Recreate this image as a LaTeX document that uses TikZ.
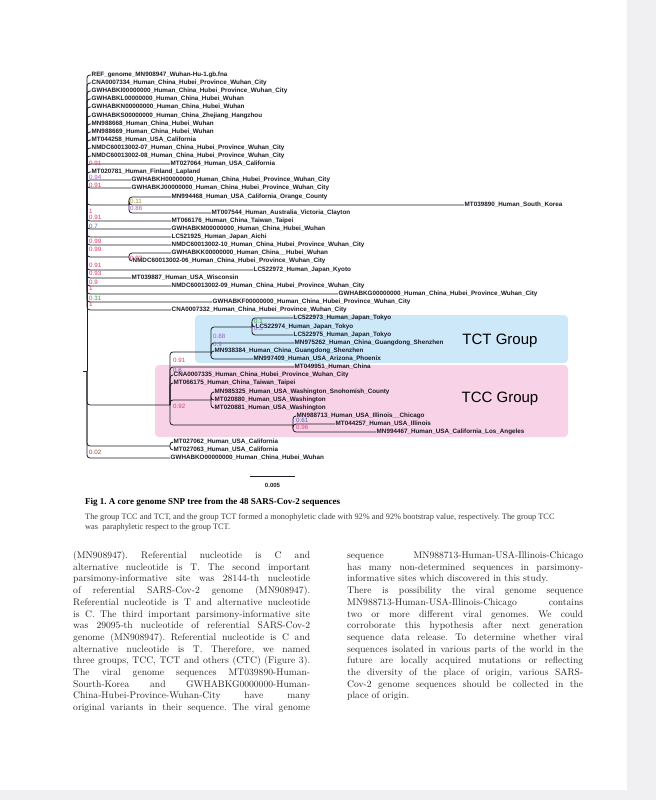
\documentclass[tikz,border=0pt]{standalone}
\usepackage{fontspec}
\frenchspacing
\newfontfamily\treefont{Liberation Sans}
\newfontfamily\capfont{Liberation Serif}
\definecolor{pagegrey}{HTML}{F0F0F2}
\definecolor{treeline}{HTML}{1C1C28}
\definecolor{tctblue}{HTML}{CDE8F8}
\definecolor{tccpink}{HTML}{F8D2E6}
\definecolor{bsred}{HTML}{D8345F}
\definecolor{bspurple}{HTML}{9A5CC8}
\definecolor{bsblue}{HTML}{4A5FC1}
\definecolor{bsgreen}{HTML}{3C9A3C}
\definecolor{bsolive}{HTML}{A8962A}
\definecolor{bsbrown}{HTML}{8C4A2F}
\definecolor{bspink}{HTML}{D6407F}
\definecolor{bodytext}{HTML}{222222}
\definecolor{captext}{HTML}{3C3C3C}
\tikzset{
  branch/.style={draw=treeline, line width=0.8pt, rounded corners=3pt},
  leaf/.style={anchor=west, inner sep=0.5pt, text=treeline, font=\treefont\bfseries\fontsize{6.3}{7}\selectfont},
  boot/.style={anchor=west, inner sep=0pt, font=\treefont\fontsize{6.2}{7}\selectfont},
  grouplabel/.style={font=\treefont\fontsize{15}{18}\selectfont},
  bodyline/.style={anchor=base west, inner sep=0pt, text=bodytext, font=\fontsize{9.6}{11.7}\selectfont},
}
\begin{document}
\begin{tikzpicture}[x=1pt,y=-1pt]
\useasboundingbox (0,0) rectangle (656,800);
% page
\fill[pagegrey] (0,0) rectangle (656,800);
\fill[white] (0,0) rectangle (627,790);
% group boxes
\fill[tctblue, rounded corners=4pt] (195,315) rectangle (568,363);
\fill[tccpink, rounded corners=4pt] (155,365) rectangle (568,437);
\node[grouplabel] (tct) at (500,341) {TCT Group};
\node[grouplabel] (tcc) at (500,399) {TCC Group};
% leaves
\foreach \x/\y/\t [count=\n] in {
 91/75/{REF\_genome\_MN908947\_Wuhan-Hu-1.gb.fna},
 91/83/{CNA0007334\_Human\_China\_Hubei\_Province\_Wuhan\_City},
 91/91/{GWHABKI00000000\_Human\_China\_Hubei\_Province\_Wuhan\_City},
 91/99/{GWHABKL00000000\_Human\_China\_Hubei\_Wuhan},
 91/107/{GWHABKN00000000\_Human\_China\_Hubei\_Wuhan},
 91/116/{GWHABKS00000000\_Human\_China\_Zhejiang\_Hangzhou},
 91/124/{MN988668\_Human\_China\_Hubei\_Wuhan},
 91/132/{MN988669\_Human\_China\_Hubei\_Wuhan},
 91/140/{MT044258\_Human\_USA\_California},
 91/148/{NMDC60013002-07\_Human\_China\_Hubei\_Province\_Wuhan\_City},
 91/156/{NMDC60013002-08\_Human\_China\_Hubei\_Province\_Wuhan\_City},
 170/164/{MT027064\_Human\_USA\_California},
 91/172/{MT020781\_Human\_Finland\_Lapland},
 131/180/{GWHABKH00000000\_Human\_China\_Hubei\_Province\_Wuhan\_City},
 131/188/{GWHABKJ00000000\_Human\_China\_Hubei\_Province\_Wuhan\_City},
 171/197/{MN994468\_Human\_USA\_California\_Orange\_County},
 464/205/{MT039890\_Human\_South\_Korea},
 211/213/{MT007544\_Human\_Australia\_Victoria\_Clayton},
 171/221/{MT066176\_Human\_China\_Taiwan\_Taipei},
 171/229/{GWHABKM00000000\_Human\_China\_Hubei\_Wuhan},
 171/237/{LC521925\_Human\_Japan\_Aichi},
 171/245/{NMDC60013002-10\_Human\_China\_Hubei\_Province\_Wuhan\_City},
 171/253/{GWHABKK00000000\_Human\_China\_\_Hubei\_Wuhan},
 132/261/{NMDC60013002-06\_Human\_China\_Hubei\_Province\_Wuhan\_City},
 253/270/{LC522972\_Human\_Japan\_Kyoto},
 131/278/{MT039887\_Human\_USA\_Wisconsin},
 171/286/{NMDC60013002-09\_Human\_China\_Hubei\_Province\_Wuhan\_City},
 338/294/{GWHABKG00000000\_Human\_China\_Hubei\_Province\_Wuhan\_City},
 212/302/{GWHABKF00000000\_Human\_China\_Hubei\_Province\_Wuhan\_City},
 171/310/{CNA0007332\_Human\_China\_Hubei\_Province\_Wuhan\_City},
 293/318/{LC522973\_Human\_Japan\_Tokyo},
 255/327/{LC522974\_Human\_Japan\_Tokyo},
 293/335/{LC522975\_Human\_Japan\_Tokyo},
 294/343/{MN975262\_Human\_China\_Guangdong\_Shenzhen},
 214/351/{MN938384\_Human\_China\_Guangdong\_Shenzhen},
 253/359/{MN997409\_Human\_USA\_Arizona\_Phoenix},
 294/367/{MT049951\_Human\_China},
 173/375/{CNA0007335\_Human\_China\_Hubei\_Province\_Wuhan\_City},
 173/383/{MT066175\_Human\_China\_Taiwan\_Taipei},
 214/392/{MN985325\_Human\_USA\_Washington\_Snohomish\_County},
 214/400/{MT020880\_Human\_USA\_Washington},
 214/408/{MT020881\_Human\_USA\_Washington},
 296/416/{MN988713\_Human\_USA\_Illinois\_\_Chicago},
 335/424/{MT044257\_Human\_USA\_Illinois},
 376/432/{MN994467\_Human\_USA\_California\_Los\_Angeles},
 173/442/{MT027062\_Human\_USA\_California},
 173/450/{MT027063\_Human\_USA\_California},
 170/458/{GWHABKO00000000\_Human\_China\_Hubei\_Wuhan}}
  \node[leaf] (l\n) at (\x,\y) {\t};
% internal nodes
\coordinate (root) at (87,371);
\coordinate (nA) at (87,192);
\coordinate (nB) at (87,184);
\coordinate (nC) at (129,205);
\coordinate (nD) at (129,257);
\coordinate (nTT) at (170,405);
\coordinate (nT) at (211,352);
\coordinate (nTk) at (252,327);
\coordinate (nW) at (211,400);
\coordinate (nI) at (293,425);
\coordinate (nP) at (170,446);
\draw[line width=0.8pt, draw=treeline] (root) -- ++(-4,0);
% branches
\draw[branch] (root) -- (nA);
\foreach \k in {1,...,13,19,20,21,22,25,26,27,28,29,30}
  \draw[branch] (nA) |- (l\k.west);
\foreach \k in {14,15} \draw[branch] (nB) |- (l\k.west);
\draw[branch] (nA) |- (nC);
\foreach \k in {16,17,18} \draw[branch] (nC) |- (l\k.west);
\draw[branch] (nA) |- (nD);
\foreach \k in {23,24} \draw[branch] (nD) |- (l\k.west);
\draw[branch] (root) |- (nTT);
\draw[branch] (nTT) |- (nT);
\draw[branch] (nT) |- (nTk);
\foreach \k in {31,32,33} \draw[branch] (nTk) |- (l\k.west);
\foreach \k in {34,35,36} \draw[branch] (nT) |- (l\k.west);
\foreach \k in {37,38,39} \draw[branch] (nTT) |- (l\k.west);
\draw[branch] (nTT) |- (nW);
\draw[branch] (nTT) |- (nI);
\foreach \k in {40,41,42} \draw[branch] (nW) |- (l\k.west);
\foreach \k in {43,44,45} \draw[branch] (nI) |- (l\k.west);
\draw[branch] (root) |- (nP);
\foreach \k in {46,47} \draw[branch] (nP) |- (l\k.west);
\draw[branch] (root) |- (l48.west);
% bootstrap values
\foreach \x/\y/\c/\v [count=\n] in {
 89/163/bsred/0.91, 89/177/bspurple/0.94, 89/185/bsred/0.91,
 130/201/bsolive/0.11, 130/208/bspurple/0.86,
 89/211/bsred/1, 89/217/bsred/0.91, 89/226/bsblue/0.7,
 89/241/bsred/0.99, 89/249/bsred/0.99, 130/258/bsred/0.93,
 89/265/bsred/0.91, 89/273/bsred/0.93, 89/282/bsred/0.9,
 89/288/bsred/1, 89/298/bsgreen/0.31, 89/304/bsred/1,
 254/321/bsgreen/0.1, 254/328/bspurple/0.5,
 213/336/bspurple/0.88, 213/344/bspurple/0.9,
 173/360/bspink/0.91, 173/370/bsblue/0.6, 173/406/bspink/0.92,
 296/420/bsblue/0.61, 296/427/bspink/0.96, 89/452/bsbrown/0.02}
  \node[boot, text=\c] (bs\n) at (\x,\y) {\v};
% scale bar
\coordinate (sbL) at (250,476);
\coordinate (sbR) at (295,476);
\draw[line width=0.9pt, draw=treeline] (sbL) -- (sbR);
\node[boot, anchor=center, text=treeline, font=\treefont\bfseries\fontsize{6}{7}\selectfont] (sblab) at (272.5,485) {0.005};
% caption
\node[anchor=base west, inner sep=0pt, font=\capfont\bfseries\fontsize{9}{11}\selectfont] (figtitle) at (85,504)
  {Fig 1. A core genome SNP tree from the 48 SARS-Cov-2 sequences};
\node[anchor=base west, inner sep=0pt, text=captext, font=\capfont\fontsize{8.3}{10}\selectfont] (cap1) at (85,519)
  {The group TCC and TCT, and the group TCT formed a monophyletic clade with 92\% and 92\% bootstrap value, respectively. The group TCC};
\node[anchor=base west, inner sep=0pt, text=captext, font=\capfont\fontsize{8.3}{10}\selectfont] (cap2) at (85,529)
  {was\ \ paraphyletic respect to the group TCT.};
% body text, left column
\foreach \t [count=\i] in {
 {(MN908947). Referential nucleotide is C and},
 {alternative nucleotide is T. The second important},
 {parsimony-informative site was 28144-th nucleotide},
 {of referential SARS-Cov-2 genome (MN908947).},
 {Referential nucleotide is T and alternative nucleotide},
 {is C. The third important parsimony-informative site},
 {was 29095-th nucleotide of referential SARS-Cov-2},
 {genome (MN908947). Referential nucleotide is C and},
 {alternative nucleotide is T. Therefore, we named},
 {three groups, TCC, TCT and others (CTC) (Figure 3).},
 {The viral genome sequences MT039890-Human-},
 {Sourth-Korea and GWHABKG0000000-Human-},
 {China-Hubei-Province-Wuhan-City have many},
 {original variants in their sequence. The viral genome}}
  \node[bodyline] (left\i) at (73,558.5+11.7*\i-11.7) {\makebox[237pt][s]{\t}};
% body text, right column
\foreach \t [count=\i] in {
 {sequence MN988713-Human-USA-Illinois-Chicago},
 {has many non-determined sequences in parsimony-},
 {informative sites which discovered in this study.\hfill},
 {There is possibility the viral genome sequence},
 {MN988713-Human-USA-Illinois-Chicago contains},
 {two or more different viral genomes. We could},
 {corroborate this hypothesis after next generation},
 {sequence data release. To determine whether viral},
 {sequences isolated in various parts of the world in the},
 {future are locally acquired mutations or reflecting},
 {the diversity of the place of origin, various SARS-},
 {Cov-2 genome sequences should be collected in the},
 {place of origin.\hfill}}
  \node[bodyline] (right\i) at (347,558.5+11.7*\i-11.7) {\makebox[236pt][s]{\t}};
\end{tikzpicture}
\end{document}
